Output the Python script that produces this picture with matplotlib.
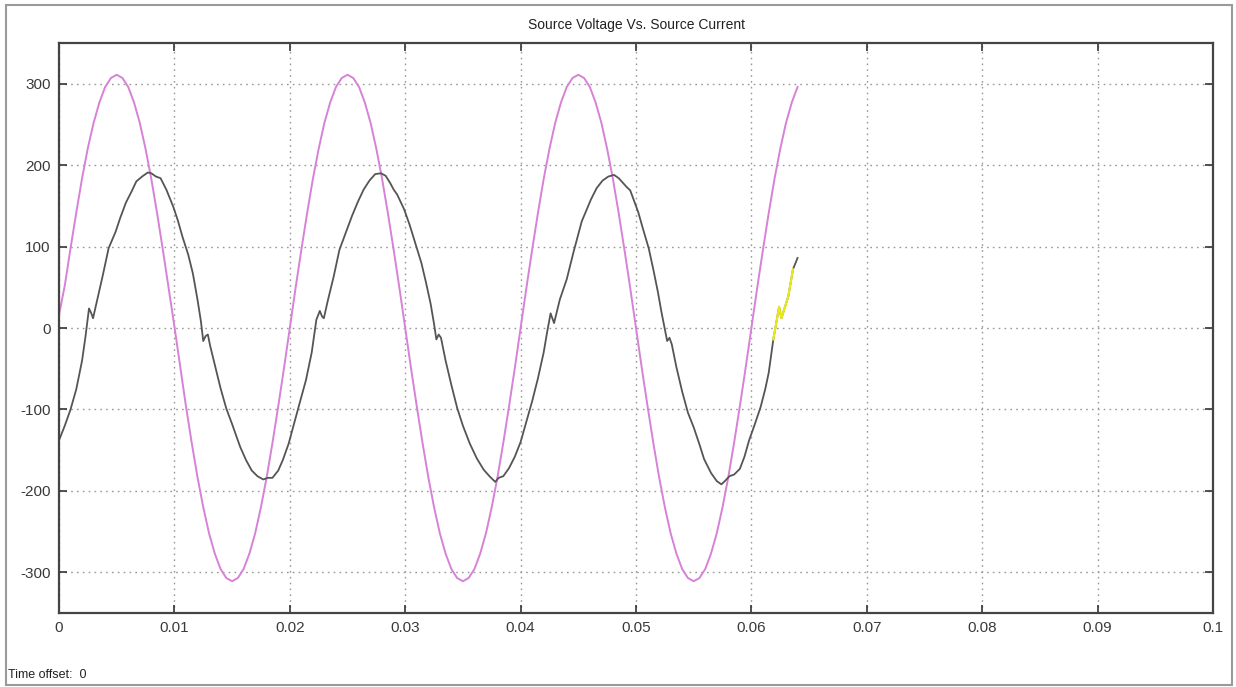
import matplotlib
matplotlib.use('Agg')
import matplotlib.pyplot as plt
from matplotlib.patches import Rectangle
import numpy as np

# source voltage, sampled every 0.5 ms from t = 0 to 64 ms
t_volt_ms = np.arange(0, 64.5, 0.5)
volt = [
    16, 52, 98, 142, 184, 221, 252, 277, 296, 307,
    311, 307, 296, 277, 252, 220, 183, 141, 96, 49,
    2, -47, -96, -141, -183, -220, -252, -277, -296, -307,
    -311, -307, -296, -277, -252, -220, -183, -141, -96, -49,
    0, 49, 96, 141, 183, 220, 252, 277, 296, 307,
    311, 307, 296, 277, 252, 220, 183, 141, 96, 49,
    0, -49, -96, -141, -183, -220, -252, -277, -296, -307,
    -311, -307, -296, -277, -252, -220, -183, -141, -96, -49,
    0, 49, 96, 141, 183, 220, 252, 277, 296, 307,
    311, 307, 296, 277, 252, 220, 183, 141, 96, 49,
    0, -49, -96, -141, -183, -220, -252, -277, -296, -307,
    -311, -307, -296, -277, -252, -220, -183, -141, -96, -49,
    0, 49, 96, 141, 183, 220, 252, 277, 296,
]

# source current (ms, A)
t_curr_ms = [
    0.0, 0.5, 1.0, 1.5, 2.0, 2.3, 2.6, 2.8, 2.95, 3.3,
    3.8, 4.3, 4.9, 5.3, 5.8, 6.3, 6.7, 7.2, 7.7, 8.0,
    8.4, 8.8, 9.3, 9.9, 10.3, 10.7, 11.2, 11.6, 12.0, 12.3,
    12.5, 12.7, 12.9, 13.1, 13.5, 14.0, 14.5, 15.0, 15.7, 16.2,
    16.7, 17.2, 17.7, 18.1, 18.5, 19.0, 19.4, 19.9, 20.3, 20.8,
    21.4, 21.9, 22.3, 22.6, 22.8, 22.95, 23.3, 23.8, 24.3, 24.9,
    25.4, 25.9, 26.4, 26.9, 27.4, 27.9, 28.3, 28.7, 29.0, 29.3,
    29.9, 30.4, 30.9, 31.4, 31.8, 32.2, 32.5, 32.7, 32.9, 33.1,
    33.5, 34.0, 34.5, 35.0, 35.6, 36.2, 36.8, 37.3, 37.8, 38.1,
    38.5, 39.0, 39.5, 40.0, 40.5, 41.0, 41.5, 42.0, 42.3, 42.6,
    42.9, 43.4, 44.0, 44.6, 45.3, 46.1, 46.6, 47.1, 47.6, 48.1,
    48.5, 49.2, 49.5, 50.2, 50.6, 51.1, 51.5, 51.9, 52.2, 52.5,
    52.7, 52.9, 53.1, 53.5, 54.0, 54.5, 55.0, 55.5, 55.9, 56.5,
    57.0, 57.4, 57.7, 58.1, 58.5, 59.0, 59.4, 59.8, 60.3, 60.8,
    61.2, 61.5, 61.9, 62.4, 62.6, 63.2, 63.6, 64.0,
]
curr = [
    -138, -120, -100, -75, -40, -10, 24, 18, 12, 34,
    65, 98, 118, 135, 154, 168, 180, 186, 191, 190,
    186, 184, 170, 149, 132, 112, 90, 67, 35, 8,
    -16, -10, -8, -22, -45, -74, -99, -118, -146, -162,
    -175, -182, -186, -184, -184, -175, -162, -142, -121, -95,
    -64, -30, 10, 21, 14, 12, 34, 63, 96, 119,
    138, 155, 170, 181, 189, 190, 187, 178, 170, 164,
    146, 126, 103, 80, 56, 30, 5, -14, -8, -12,
    -40, -70, -98, -120, -142, -160, -174, -182, -189, -184,
    -182, -172, -158, -140, -115, -90, -62, -30, -5, 18,
    6, 35, 60, 94, 131, 158, 172, 181, 186, 188,
    184, 173, 169, 142, 122, 98, 72, 44, 20, -2,
    -16, -12, -20, -48, -78, -104, -122, -143, -161, -178,
    -188, -192, -188, -182, -180, -173, -158, -138, -118, -97,
    -75, -55, -14, 26, 12, 39, 72, 86,
]
# short stretch where the yellow trace shows
yellow_from, yellow_to = 61.9, 63.6

x_ticks = [0, 0.01, 0.02, 0.03, 0.04, 0.05, 0.06, 0.07, 0.08, 0.09, 0.1]
x_labels = ['0', '0.01', '0.02', '0.03', '0.04', '0.05', '0.06', '0.07', '0.08', '0.09', '0.1']
y_ticks = [-300, -200, -100, 0, 100, 200, 300]

plt.rcParams['font.family'] = ['Liberation Sans Narrow', 'Liberation Sans', 'DejaVu Sans']
plt.rcParams['axes.unicode_minus'] = False

fig = plt.figure(figsize=(12.36, 6.87), dpi=100)
fig.patch.set_facecolor('white')
fig.patches.append(Rectangle((6 / 1236, 2 / 687), 1226 / 1236, 680 / 687,
                             transform=fig.transFigure, fill=False,
                             edgecolor='#9a9a9a', linewidth=1.5))

ax = fig.add_axes([59 / 1236, 1 - 613 / 687, 1154 / 1236, 570 / 687])

tv = np.array(t_volt_ms) / 1000
tc = np.array(t_curr_ms) / 1000
ic = np.array(curr)

ax.plot(tv, volt, color='#d682d6', linewidth=1.4)
ax.plot(tc, ic, color='#555555', linewidth=1.3)
mask = (np.array(t_curr_ms) >= yellow_from) & (np.array(t_curr_ms) <= yellow_to)
ax.plot(tc[mask], ic[mask], color='#e8e820', linewidth=1.6)

ax.set_xlim(0, 0.1)
ax.set_ylim(-350, 350)
ax.set_xticks(x_ticks)
ax.set_xticklabels(x_labels)
ax.set_yticks(y_ticks)
ax.grid(True, color='#999999', linestyle=(0, (1.2, 3)), linewidth=1.0)
ax.tick_params(direction='in', length=6, width=1.2, colors='#333333',
               labelsize=11, top=True, right=True, pad=6)
for lbl in ax.get_xticklabels() + ax.get_yticklabels():
    lbl.set_color('#3a3a3a')
for s in ax.spines.values():
    s.set_color('#444444')
    s.set_linewidth(1.6)

ax.set_title('Source Voltage Vs. Source Current', fontsize=10, color='#222222', pad=10)
fig.text(8 / 1236, 1 - 675 / 687, 'Time offset:  0', fontsize=9, color='#222222',
         va='center', ha='left')

fig.savefig('out.png', dpi=100, facecolor='white')
